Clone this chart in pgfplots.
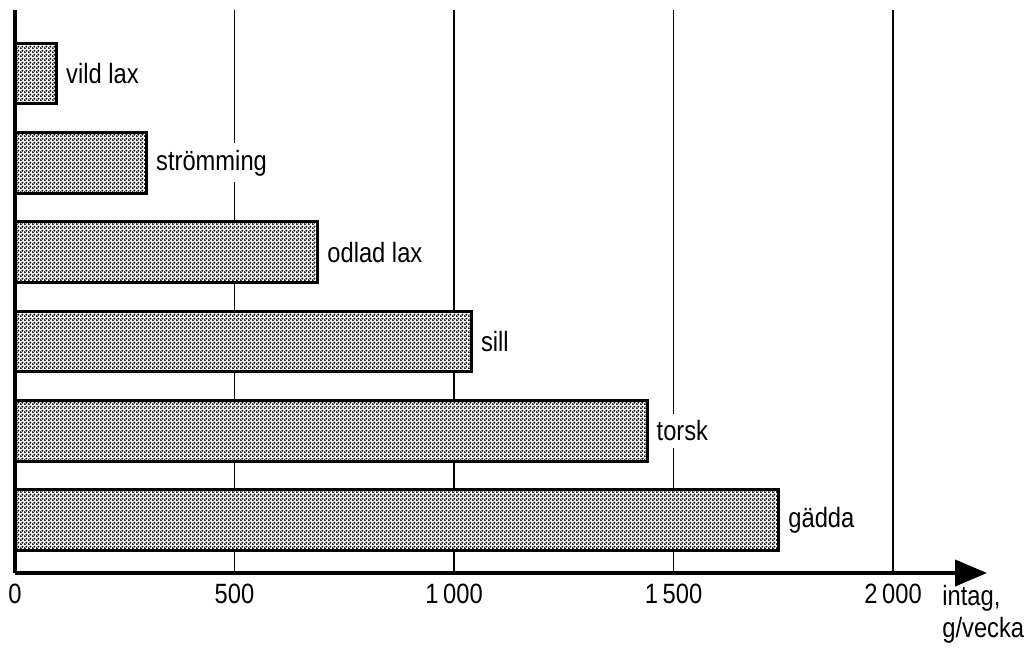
\documentclass[border=0pt]{standalone}
\usepackage{pgfplots}
\pgfplotsset{compat=1.18}
\usepackage{fontspec}
\setmainfont{Liberation Sans}[FakeStretch=0.85]
\usetikzlibrary{patterns,arrows.meta}

% fine checkerboard of dots, as in the printed bars
\pgfdeclarepatternformonly{fishdots}{\pgfqpoint{0bp}{0bp}}{\pgfqpoint{2bp}{2bp}}{\pgfqpoint{2bp}{2bp}}{
	\pgfpathcircle{\pgfqpoint{0.5bp}{0.5bp}}{0.66bp}
	\pgfpathcircle{\pgfqpoint{1.5bp}{1.5bp}}{0.66bp}
	\pgfusepath{fill}
}

\begin{document}
\begin{tikzpicture}[font=\fontsize{14}{16}\selectfont]
% frame that fixes the picture's proportions
\path (-7.5bp,-38bp) rectangle (506bp,286.5bp);
\begin{axis}[
	at={(0,0)}, anchor=south west,
	scale only axis, width=486bp, height=281.5bp,
	xbar, bar width=0.68,
	xmin=0, xmax=2214, ymin=0.41, ymax=6.71,
	axis x line=bottom, axis y line=left,
	x axis line style={line width=2bp,-{Triangle[length=16bp,width=13bp]}},
	y axis line style={line width=1.6bp,-},
	xtick={0,500,1000,1500,2000},
	xticklabels={0,500,1\,000,1\,500,2\,000},
	ytick=\empty,
	major tick length=0pt,
	xmajorgrids, grid style={black,line width=0.8bp},
	xticklabel style={yshift=-2bp},
	nodes near coords, point meta=explicit symbolic,
	nodes near coords style={anchor=west, xshift=2bp, fill=white, inner xsep=2bp},
	clip=false,
]
	\addplot[draw=black, line width=1.5bp, fill=white,
		postaction={pattern=fishdots}] coordinates {
		(1740,1) [gädda]
		(1440,2) [torsk]
		(1040,3) [sill]
		(690,4) [odlad lax]
		(300,5) [strömming]
		(95,6) [vild lax]
	};
\end{axis}
\node[anchor=north west, inner sep=0, align=left] at (463.5bp,-6bp) {intag,\\g/vecka};
\end{tikzpicture}
\end{document}
